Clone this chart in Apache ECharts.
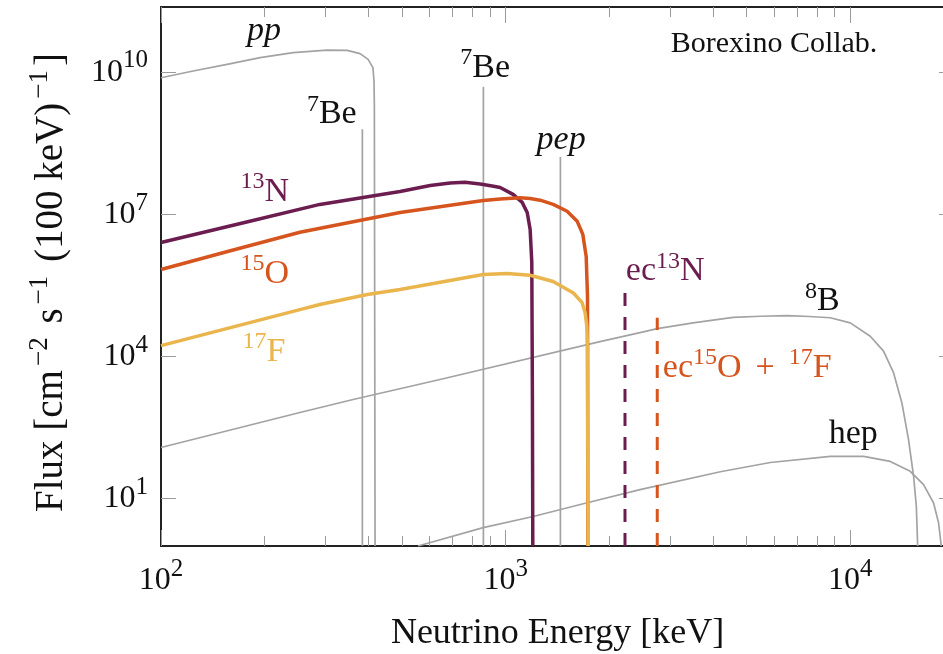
<!DOCTYPE html>
<html><head><meta charset="utf-8">
<script src="https://cdn.jsdelivr.net/npm/echarts@6/dist/echarts.min.js"></script>
<style>html,body{margin:0;padding:0;background:#fff}#c{width:943px;height:654px}</style>
</head><body><div id="c"></div>
<script>
// ---------------- data (energy in keV, flux per cm^2 s 100 keV) ----------------
const ppE  = [100, 124, 155.5, 194, 242, 303, 347, 378, 399, 412, 415, 416, 418];
const ppF  = [7.7e9, 1.07e10, 1.48e10, 2.05e10, 2.61e10, 2.96e10, 2.92e10, 2.49e10, 1.88e10, 1.26e10, 6.6e9, 2.1e9, 1];

const be7aE = [384, 384];   const be7aF = [1, 6.3e8];
const be7bE = [862, 862];   const be7bF = [1, 5.0e9];
const pepE  = [1442, 1442]; const pepF  = [1, 1.63e8];

const b8E = [100, 253, 361, 645, 1878, 2455, 2754, 3500, 4571, 5500, 6561, 7600, 8750, 10000, 11430, 12490, 13360, 14120, 14760, 15270, 15550, 15690];
const b8F = [120, 660, 1240, 3270, 2.07e4, 3.2e4, 3.9e4, 5.15e4, 6.7e4, 7.1e4, 7.3e4, 7.0e4, 6.6e4, 5.15e4, 2.69e4, 1.3e4, 4.5e3, 1.05e3, 177, 29.6, 6.9, 1];

const hepE = [557, 861, 1202, 1725, 2455, 4198, 5862, 8750, 10930, 13060, 14930, 16320, 17450, 18040, 18370];
const hepF = [1, 2.44, 4.2, 8.2, 15.5, 37, 58, 78, 78, 61, 37.8, 19.8, 8.1, 3.1, 1];

const n13E = [100, 181, 289, 494, 604, 690, 762, 843, 914, 964, 1051, 1117, 1155, 1178, 1191, 1196, 1199];
const n13F = [2.56e6, 7.2e6, 1.63e7, 3.06e7, 4.1e7, 4.63e7, 4.8e7, 4.4e7, 4.0e7, 3.72e7, 2.65e7, 1.8e7, 1.1e7, 4.8e6, 9.7e5, 1.2e3, 1];

const o15E = [100, 158, 253, 494, 861, 964, 1101, 1178, 1259, 1374, 1508, 1613, 1675, 1713, 1728, 1732];
const o15F = [6.9e5, 1.69e6, 4.2e6, 1.1e7, 1.98e7, 2.13e7, 2.25e7, 2.18e7, 2.0e7, 1.63e7, 1.17e7, 7.2e6, 3.8e6, 1.3e6, 1.9e5, 1];

const f17E = [100, 253, 289, 397, 494, 861, 1009, 1178, 1374, 1573, 1667, 1701, 1720, 1728, 1735];
const f17F = [1.7e4, 9.8e4, 1.26e5, 2.04e5, 2.6e5, 5.4e5, 5.7e5, 5.2e5, 3.85e5, 2.2e5, 1.37e5, 8.4e4, 4.4e4, 1.65e4, 1];

const ecN13E = [2220, 2220]; const ecN13F = [1, 2.2e5];
const ecO15E = [2754, 2754]; const ecO15F = [1, 6.6e4];

// tick values
const xTickValues  = [100, 1000, 10000];
const xMinorValues = [200, 300, 400, 500, 600, 700, 800, 900, 2000, 3000, 4000, 5000, 6000, 7000, 8000, 9000];
const yTickValues  = [10, 1e4, 1e7, 1e10];

// annotations (text + anchor in data units)
const annoText = ['{i|pp}', '{s|7}{b|Be}', '{s|7}{b|Be}', '{i|pep}', '{s|13}{b|N}', '{s|15}{b|O}', '{s|17}{b|F}',
                  '{b|ec}{s|13}{b|N}', '{b|ec}{s|15}{b|O}{m|+}{s|17}{b|F}', '{s|8}{b|B}', '{b|hep}', '{c|Borexino Collab.}'];
const annoE = [199, 313, 872, 1449, 200, 200, 199, 2904, 5025, 8300, 10200, 6010];
const annoF = [7.4e10, 1.3e9, 1.25e10, 3.7e8, 3.0e7, 5.6e5, 1.25e4, 6.3e5, 5.8e3, 1.45e5, 230, 3.9e10];
const annoKey = ['k', 'k', 'k', 'k', 'n', 'o', 'f', 'n', 'o', 'k', 'k', 'k'];

// ---------------- styles ----------------
const FONT = "'Liberation Serif', 'DejaVu Serif', serif";
const COL = { k: '#111111', g: '#a3a3a3', n: '#6c1d4f', o: '#d6541d', f: '#e9b54c' };

function rich(color, base, sup, extraLH, supPad) {
  const p = supPad || 0;
  return {
    b: { fontFamily: FONT, fontSize: base, lineHeight: base + extraLH, color: color },
    i: { fontFamily: FONT, fontSize: base, lineHeight: base + extraLH, color: color, fontStyle: 'italic' },
    m: { fontFamily: FONT, fontSize: base, lineHeight: base + extraLH, color: color, padding: [0, 14, 0, 14] },
    s: { fontFamily: FONT, fontSize: sup, lineHeight: sup, color: color, verticalAlign: 'top', padding: [0, p, 0, p] },
    c: { fontFamily: FONT, fontSize: 30, lineHeight: 36, color: color }
  };
}
function zip(E, F) { return E.map((e, i) => [e, F[i]]); }
function lineSeries(name, E, F, color, width, dash, z) {
  return { name: name, type: 'line', data: zip(E, F), showSymbol: false, symbol: 'none',
    lineStyle: { color: color, width: width, type: dash || 'solid', cap: 'butt', join: 'round' },
    z: z, silent: true, clip: true, animation: false };
}
function powLabel(v) {
  const e = Math.round(Math.log10(v));
  return '{b|10}{s|' + e + '}';
}

const X_MIN = 100, X_MAX = 20000, Y_MIN = 1, Y_MAX = 2.4e11;
const tickStyle = { color: '#9a9a9a', width: 1 };

function xAx(pos, values, len, withLabel) {
  const a = { type: 'log', logBase: 10, min: X_MIN, max: X_MAX, position: pos,
    axisLine: { show: false }, splitLine: { show: false },
    axisTick: { show: true, inside: true, length: len, lineStyle: tickStyle, customValues: values },
    axisLabel: { show: false } };
  if (withLabel) {
    a.axisLabel = { show: true, customValues: values, formatter: powLabel, margin: 11, rich: rich('#111', 32, 25, 16) };
    a.name = 'Neutrino Energy [keV]';
    a.nameLocation = 'middle';
    a.nameGap = 70;
    a.nameTextStyle = { fontFamily: FONT, fontSize: 36, color: '#111' };
  }
  return a;
}
function yAx(pos, withLabel) {
  const a = { type: 'log', logBase: 10, min: Y_MIN, max: Y_MAX, position: pos,
    axisLine: { show: false }, splitLine: { show: false },
    axisTick: { show: true, inside: true, length: 15, lineStyle: tickStyle, customValues: yTickValues },
    axisLabel: { show: false } };
  if (withLabel) {
    a.axisLabel = { show: true, customValues: yTickValues, formatter: powLabel, margin: 13, rich: rich('#111', 32, 25, 16) };
    a.name = '{b|Flux [cm}{s|\u22122}{b| s}{s|\u22121}{b| (100 keV)}{s|\u22121}{b|]}';
    a.nameLocation = 'middle';
    a.nameRotate = 90;
    a.nameGap = 84;
    a.nameTextStyle = { fontFamily: FONT, fontSize: 39, color: '#111', padding: [0, 12, 0, 0],
                        rich: rich('#111', 39, 27, 12, 4) };
  }
  return a;
}

const annoData = annoText.map((t, i) => ({
  value: [annoE[i], annoF[i]],
  label: { show: true, position: 'inside', formatter: t, color: COL[annoKey[i]], rich: rich(COL[annoKey[i]], 34, 24, 10) }
}));

const option = {
  animation: false,
  backgroundColor: '#ffffff',
  grid: { left: 161, top: 7, width: 793, height: 539, show: true, borderColor: '#222', borderWidth: 2,
          backgroundColor: 'transparent', outerBoundsMode: 'none', containLabel: false },
  xAxis: [xAx('bottom', xTickValues, 16, true), xAx('bottom', xMinorValues, 10, false),
          xAx('top', xTickValues, 16, false), xAx('top', xMinorValues, 10, false)],
  yAxis: [yAx('left', true), yAx('right', false)],
  series: [
    lineSeries('pp', ppE, ppF, COL.g, 1.7, null, 2),
    lineSeries('7Be384', be7aE, be7aF, COL.g, 1.7, null, 2),
    lineSeries('7Be862', be7bE, be7bF, COL.g, 1.7, null, 2),
    lineSeries('pep', pepE, pepF, COL.g, 1.7, null, 2),
    lineSeries('8B', b8E, b8F, COL.g, 1.7, null, 2),
    lineSeries('hep', hepE, hepF, COL.g, 1.7, null, 2),
    lineSeries('13N', n13E, n13F, COL.n, 3.5, null, 3),
    lineSeries('15O', o15E, o15F, COL.o, 3.5, null, 4),
    lineSeries('17F', f17E, f17F, COL.f, 3.5, null, 5),
    lineSeries('ec13N', ecN13E, ecN13F, COL.n, 3, [13, 11], 6),
    lineSeries('ec15O', ecO15E, ecO15F, COL.o, 3, [13, 11], 6),
    { type: 'scatter', symbolSize: 0, data: annoData, silent: true, z: 10, animation: false,
      itemStyle: { opacity: 1 } }
  ]
};
const chart = echarts.init(document.getElementById('c'), null, { renderer: 'canvas' });
chart.setOption(option);
</script>
</body></html>
